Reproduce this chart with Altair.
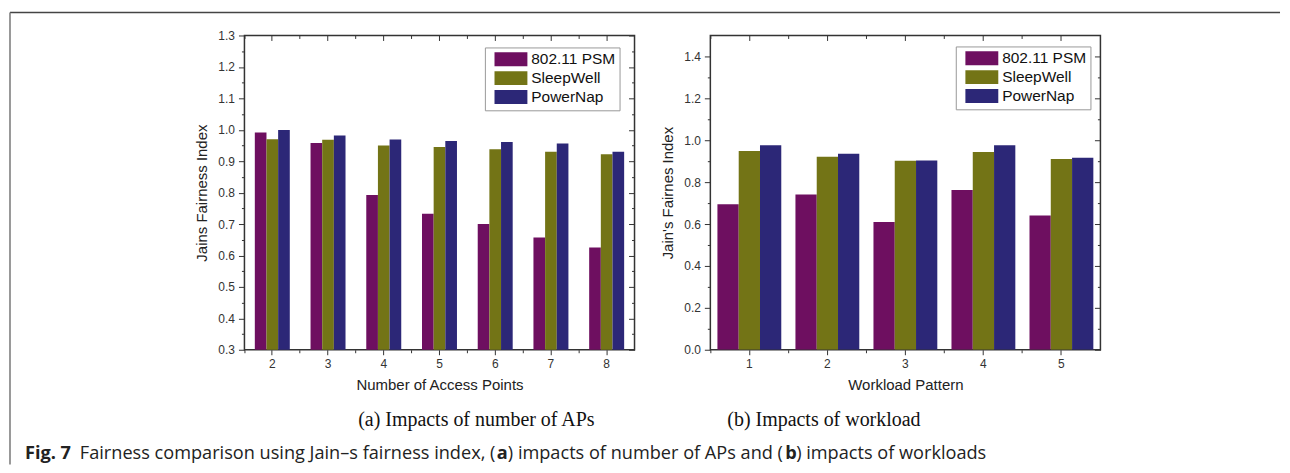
import altair as alt
import pandas as pd

# ---------------- data ----------------
series = ["802.11 PSM", "SleepWell", "PowerNap"]
colors = ["#6e0f60", "#737416", "#2c2777"]

ap_counts = ["2", "3", "4", "5", "6", "7", "8"]
ap_psm = [0.991, 0.958, 0.792, 0.733, 0.700, 0.657, 0.625]
ap_sleepwell = [0.970, 0.968, 0.950, 0.945, 0.938, 0.930, 0.922]
ap_powernap = [0.999, 0.982, 0.969, 0.964, 0.961, 0.956, 0.930]

workloads = ["1", "2", "3", "4", "5"]
wl_psm = [0.695, 0.741, 0.610, 0.763, 0.641]
wl_sleepwell = [0.949, 0.921, 0.902, 0.944, 0.911]
wl_powernap = [0.976, 0.935, 0.903, 0.976, 0.916]

left_major = [0.3, 0.4, 0.5, 0.6, 0.7, 0.8, 0.9, 1.0, 1.1, 1.2, 1.3]
left_minor = [0.35, 0.45, 0.55, 0.65, 0.75, 0.85, 0.95, 1.05, 1.15, 1.25]
right_major = [0.0, 0.2, 0.4, 0.6, 0.8, 1.0, 1.2, 1.4]
right_minor = [0.1, 0.3, 0.5, 0.7, 0.9, 1.1, 1.3]

sub_captions = ["(a) Impacts of number of APs", "(b) Impacts of workload"]
fig_caption = [
    ("Fig. 7", "bold"),
    ("Fairness comparison using Jain\u2013s fairness index, (", "normal"),
    ("a", "bold"),
    (") impacts of number of APs and (", "normal"),
    ("b", "bold"),
    (") impacts of workloads", "normal"),
]

FONT = "Liberation Sans"
W, H = 391, 315
AXC = "#333333"


def long_df(cats, a, b, c):
    rows = []
    for i, cat in enumerate(cats):
        for s, vals in zip(series, (a, b, c)):
            rows.append({"cat": cat, "series": s, "value": vals[i]})
    return pd.DataFrame(rows)


def panel(df, cats, xtitle, ytitle, ydomain, major, minor, off_pad, leg_xy, extra=()):
    xscale = alt.Scale(paddingInner=0, paddingOuter=0)
    yscale = alt.Scale(domain=ydomain, nice=False, zero=False)
    base = alt.Chart(df)

    lab = dict(labelFont=FONT, labelFontSize=12, labelColor=AXC,
               titleFont=FONT, titleFontSize=15, titleColor="#222222",
               titleFontWeight="normal", tickColor=AXC, domain=False, grid=False)

    bars = base.mark_bar(clip=True).encode(
        x=alt.X("cat:N", sort=cats, scale=xscale,
                axis=alt.Axis(orient="bottom", title=xtitle, labelAngle=0,
                              bandPosition=0.5, tickSize=5, labelPadding=4,
                              titlePadding=8, **lab)),
        xOffset=alt.XOffset("series:N", sort=series,
                            scale=alt.Scale(paddingInner=0, paddingOuter=off_pad)),
        y=alt.Y("value:Q", scale=yscale,
                axis=alt.Axis(orient="left", title=ytitle, values=major, format=".1f",
                              tickSize=6, labelPadding=4, titlePadding=8, **lab)),
        color=alt.Color("series:N", sort=series,
                        scale=alt.Scale(domain=series, range=colors),
                        legend=alt.Legend(title=None, orient="none",
                                          legendX=leg_xy[0], legendY=leg_xy[1],
                                          direction="vertical",
                                          symbolType="M-0.3,-1H4.41V1H-0.3Z",
                                          symbolSize=196, symbolStrokeWidth=0,
                                          symbolOpacity=1,
                                          labelFont=FONT, labelFontSize=15.5,
                                          labelColor="#111111", labelOffset=27,
                                          padding=4, rowPadding=2,
                                          strokeColor="#999999", fillColor="white")),
    )

    def ax_layer(xaxis, yaxis):
        return base.mark_point(opacity=0, size=1).encode(
            x=alt.X("cat:N", sort=cats, scale=xscale, axis=xaxis),
            y=alt.Y("value:Q", scale=yscale, axis=yaxis),
        )

    nolab = dict(labels=False, title=None, domain=False, grid=False, tickColor=AXC)
    l2 = ax_layer(alt.Axis(orient="bottom", bandPosition=0, tickSize=3, **nolab),
                  alt.Axis(orient="left", values=minor, tickSize=3, **nolab))
    l3 = ax_layer(alt.Axis(orient="bottom", offset=-H, bandPosition=0.5, tickSize=5, **nolab),
                  alt.Axis(orient="left", offset=-W, values=major, tickSize=6, **nolab))
    l4 = ax_layer(alt.Axis(orient="bottom", offset=-H, bandPosition=0, tickSize=3, **nolab),
                  alt.Axis(orient="left", offset=-W, values=minor, tickSize=3, **nolab))

    layers = [bars, l2, l3, l4] + list(extra)
    return alt.layer(*layers).resolve_axis(x="independent", y="independent").properties(
        width=W, height=H)


one = pd.DataFrame({"k": [0]})

# decorative frame (relative to the left plot origin)
frame = [
    alt.Chart(one).mark_rule(color="#444444", strokeWidth=1.5).encode(
        x=alt.value(-235), x2=alt.value(1038), y=alt.value(-23)),
    alt.Chart(one).mark_rule(color="#777777", strokeWidth=1.5).encode(
        x=alt.value(-235), y=alt.value(-23), y2=alt.value(430)),
]

captions = [
    alt.Chart(pd.DataFrame({"t": [sub_captions[0]]})).mark_text(
        font="Liberation Serif", fontSize=20, align="left", baseline="alphabetic",
        color="#111111").encode(text="t:N", x=alt.value(114), y=alt.value(391)),
    alt.Chart(pd.DataFrame({"t": [sub_captions[1]]})).mark_text(
        font="Liberation Serif", fontSize=20, align="left", baseline="alphabetic",
        color="#111111").encode(text="t:N", x=alt.value(484), y=alt.value(391)),
]
frag_x = [-220, -165, 253, 264, 542, 553]
for (txt, wt), fx in zip(fig_caption, frag_x):
    captions.append(
        alt.Chart(pd.DataFrame({"t": [txt]})).mark_text(
            font="Open Sans", fontSize=18.2, fontWeight=wt, align="left",
            baseline="alphabetic", color="#222222").encode(
            text="t:N", x=alt.value(fx), y=alt.value(425)))

left = panel(long_df(ap_counts, ap_psm, ap_sleepwell, ap_powernap), ap_counts,
             "Number of Access Points", "Jains Fairness Index", [0.3, 1.3],
             left_major, left_minor, 0.89, (241, 12), extra=frame + captions)
right = panel(long_df(workloads, wl_psm, wl_sleepwell, wl_powernap), workloads,
              "Workload Pattern", "Jain's Fairnes Index", [0.0, 1.5],
              right_major, right_minor, 0.333, (246, 11))

chart = alt.hconcat(left, right, spacing=76, bounds="flush").resolve_legend(
    color="independent").resolve_scale(
    color="independent", xOffset="independent").properties(
    padding={"left": 0, "top": 2, "right": 0, "bottom": 0},
    background="white",
).configure_view(stroke="#333333", strokeWidth=1.5)

chart.save("out.html", embed_options={"renderer": "svg", "actions": False})
